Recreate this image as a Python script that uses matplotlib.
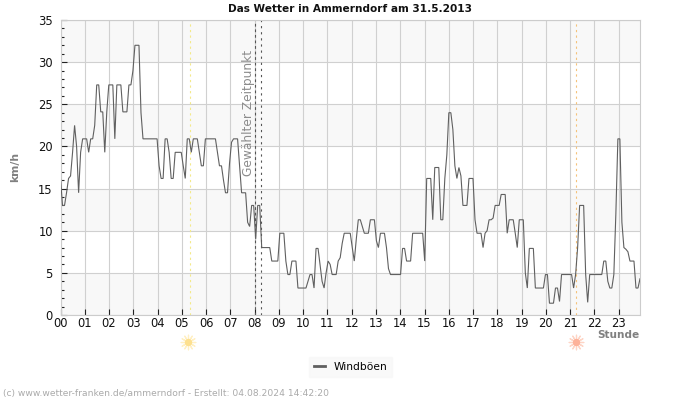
import matplotlib
matplotlib.use("Agg")
import matplotlib.pyplot as plt
import numpy as np

hour_labels = ["%02d" % h for h in range(24)]
y_ticks = [0, 5, 10, 15, 20, 25, 30, 35]
series_name = "Windböen"
title = "Das Wetter in Ammerndorf am 31.5.2013"
sunrise = 5.32
sunset = 21.24
selected = [8.0, 8.25]
end_hour = 23.88

h00 = [16.2, 13, 13, 14.5, 16.2, 16.5, 19.3, 22.5, 20, 14.5, 19.3, 20.9]
h01 = [20.9, 20.9, 19.3, 20.9, 20.9, 22.5, 27.3, 27.3, 24.1, 24.1, 19.3, 24.1]
h02 = [27.3, 27.3, 27.3, 20.9, 27.3, 27.3, 27.3, 24.1, 24.1, 24.1, 27.3, 27.3]
h03 = [29, 32, 32, 32, 24, 20.9, 20.9, 20.9, 20.9, 20.9, 20.9, 20.9]
h04 = [20.9, 17.7, 16.2, 16.2, 20.9, 20.9, 19.3, 16.2, 16.2, 19.3, 19.3, 19.3]
h05 = [19.3, 17.7, 16.2, 20.9, 20.9, 19.3, 20.9, 20.9, 20.9, 19.3, 17.7, 17.7]
h06 = [20.9, 20.9, 20.9, 20.9, 20.9, 20.9, 19.3, 17.7, 17.7, 16, 14.5, 14.5]
h07 = [18, 20.5, 20.9, 20.9, 20.9, 17.7, 14.5, 14.5, 14.5, 11, 10.5, 13]
h08 = [13, 9, 13, 13, 8, 8, 8, 8, 8, 6.4, 6.4, 6.4]
h09 = [6.4, 9.7, 9.7, 9.7, 6.4, 4.8, 4.8, 6.4, 6.4, 6.4, 3.2, 3.2]
h10 = [3.2, 3.2, 3.2, 4, 4.8, 4.8, 3.2, 7.9, 7.9, 6, 4, 3.2]
h11 = [5, 6.4, 6, 4.8, 4.8, 4.8, 6.4, 6.8, 8.5, 9.7, 9.7, 9.7]
h12 = [9.7, 8, 6.4, 9, 11.3, 11.3, 10.5, 9.7, 9.7, 9.7, 11.3, 11.3]
h13 = [11.3, 8.8, 8, 9.7, 9.7, 9.7, 8, 5.5, 4.8, 4.8, 4.8, 4.8]
h14 = [4.8, 4.8, 7.9, 7.9, 6.4, 6.4, 6.4, 9.7, 9.7, 9.7, 9.7, 9.7]
h15 = [9.7, 6.4, 16.2, 16.2, 16.2, 11.3, 17.5, 17.5, 17.5, 11.3, 11.3, 16.2]
h16 = [19, 24, 24, 22, 17.7, 16.2, 17.5, 16.5, 13, 13, 13, 16.2]
h17 = [16.2, 16.2, 11.3, 9.7, 9.7, 9.7, 8, 9.7, 10, 11.3, 11.3, 11.5]
h18 = [13, 13, 13, 14.3, 14.3, 14.3, 9.7, 11.3, 11.3, 11.3, 9.7, 8]
h19 = [11.3, 11.3, 11.3, 5, 3.2, 7.9, 7.9, 7.9, 3.2, 3.2, 3.2, 3.2]
h20 = [3.2, 4.8, 4.8, 1.4, 1.4, 1.4, 3.2, 3.2, 1.6, 4.8, 4.8, 4.8]
h21 = [4.8, 4.8, 4.8, 3.2, 4.8, 8, 13, 13, 13, 4.8, 1.5, 4.8]
h22 = [4.8, 4.8, 4.8, 4.8, 4.8, 4.8, 6.4, 6.4, 4, 3.2, 3.2, 4.8]
h23 = [12, 20.9, 20.9, 11, 8, 7.8, 7.5, 6.4, 6.4, 6.4, 3.2, 3.2]
last_value = [4.3]

gusts = (h00 + h01 + h02 + h03 + h04 + h05 + h06 + h07 + h08 + h09 + h10 + h11 +
         h12 + h13 + h14 + h15 + h16 + h17 + h18 + h19 + h20 + h21 + h22 + h23 + last_value)
hours = np.linspace(0, end_hour, len(gusts))

W, H = 700, 400
fig = plt.figure(figsize=(7, 4), dpi=100, facecolor="white")
L, R, T, B = 60.5, 640, 20, 315
ax = fig.add_axes([L / W, 1 - B / H, (R - L) / W, (B - T) / H])
ax.set_xlim(0, end_hour)
ax.set_ylim(0, 35)
ax.set_facecolor("white")

for lo in y_ticks[:-1][::2]:
    ax.axhspan(lo, lo + 5, color="#f8f8f8", lw=0, zorder=0)

ax.set_xticks(range(24), hour_labels)
ax.set_yticks(y_ticks)
ax.set_yticks([v for v in range(36) if v % 5], minor=True)
ax.grid(True, which="major", color="#d0d0d0", lw=0.8, zorder=1)
ax.tick_params(axis="x", which="major", direction="in", length=4, width=0.8, color="#222222",
               labelsize=8.3, pad=1.5, labelcolor="#111111")
ax.tick_params(axis="y", which="major", direction="in", length=4, width=0.8, color="#222222",
               labelsize=8.3, pad=5.5, labelcolor="#111111")
ax.tick_params(axis="y", which="minor", direction="in", length=2, width=0.8, color="#222222")
for s in ax.spines.values():
    s.set_color("#cccccc")
    s.set_linewidth(0.8)

ax.axvline(sunrise, color="#f3e98a", lw=0.8, ls=(0, (2, 3)), zorder=2)
ax.axvline(sunset, color="#f5c27a", lw=0.8, ls=(0, (2, 3)), zorder=2)
for xs, dash in zip(selected, [(2.5, 2.5), (2, 3.5)]):
    ax.axvline(xs, color="#555555", lw=0.8, ls=(0, dash), zorder=2)

line, = ax.plot(hours, gusts, color="#606060", lw=0.8, solid_joinstyle="miter", zorder=3,
                label=series_name)

ax.text(8.03, 31.5, "Gewählter Zeitpunkt", rotation=90, color="#8c8c8c", fontsize=8.8,
        ha="right", va="top", zorder=4)

trans = ax.get_xaxis_transform()
for xs, c, c2 in [(sunrise - 0.05, "#fde08f", "#fff0c4"), (sunset, "#fdb29a", "#fed5c6")]:
    ax.scatter([xs], [-0.09], s=110, marker=(12, 2, 0), color=c2, lw=0.9, transform=trans, clip_on=False, zorder=5)
    ax.scatter([xs], [-0.09], s=28, marker="o", color=c, lw=0, transform=trans, clip_on=False, zorder=6)

fig.text(350 / W, 1 - 8.5 / H, title, ha="center", va="center", fontsize=7.6, fontweight="bold", color="#111111")
fig.text(15.5 / W, 1 - 167 / H, "km/h", rotation=90, ha="center", va="center", fontsize=7.8,
         fontweight="bold", color="#808080")
fig.text(639 / W, 1 - 334.5 / H, "Stunde", ha="right", va="center", fontsize=7.6, fontweight="bold", color="#808080")
fig.text(3 / W, 1 - 393.5 / H, "(c) www.wetter-franken.de/ammerndorf - Erstellt: 04.08.2024 14:42:20",
         ha="left", va="center", fontsize=6.6, color="#aaaaaa")

leg = fig.legend(handles=[line], loc="center", bbox_to_anchor=(350.5 / W, 1 - 367 / H), frameon=True,
                 fontsize=7.7, handlelength=1.04, handletextpad=0.8, borderpad=0.47, fancybox=False,
                 borderaxespad=0)
leg.get_frame().set_facecolor("#f8f8f8")
leg.get_frame().set_edgecolor("#f8f8f8")
leg.get_lines()[0].set_linewidth(2)

fig.savefig("out.png", dpi=100, facecolor="white")
